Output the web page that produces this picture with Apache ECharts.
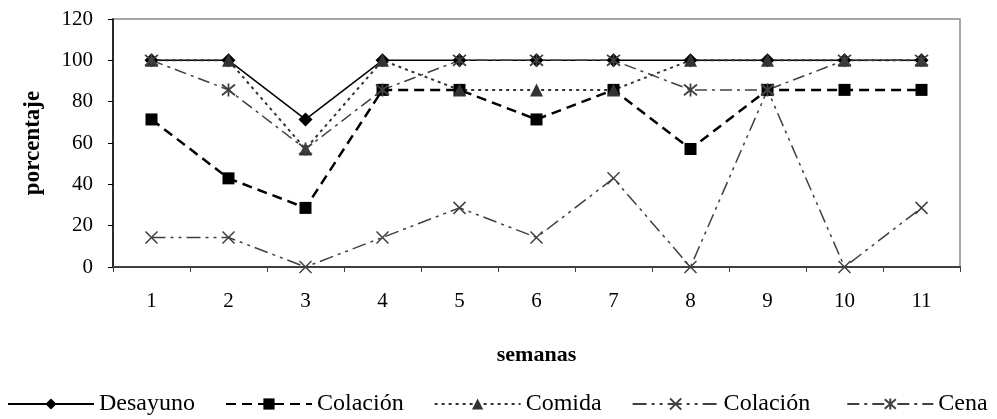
<!DOCTYPE html>
<html>
<head>
<meta charset="utf-8">
<script src="https://cdn.jsdelivr.net/npm/echarts@6/dist/echarts.min.js"></script>
<style>
  html, body { margin: 0; padding: 0; background: #fff; }
  #chart { width: 997px; height: 419px; }
</style>
</head>
<body>
<div id="chart"></div>
<script>
// Weeks on the x axis
const weeks = ['1', '2', '3', '4', '5', '6', '7', '8', '9', '10', '11'];

// Percentage of days per week for each meal
const desayuno  = [100, 100, 71.4, 100, 100, 100, 100, 100, 100, 100, 100];
const colacion1 = [71.4, 42.9, 28.6, 85.7, 85.7, 71.4, 85.7, 57.1, 85.7, 85.7, 85.7];
const comida    = [100, 100, 57.1, 100, 85.7, 85.7, 85.7, 100, 100, 100, 100];
const colacion2 = [14.3, 14.3, 0, 14.3, 28.6, 14.3, 42.9, 0, 85.7, 0, 28.6];
const cena      = [100, 85.7, 57.1, 85.7, 100, 100, 100, 85.7, 85.7, 100, 100];

// Series names (second snack carries a trailing space so the legend keeps both entries)
const names = ['Desayuno', 'Colación', 'Comida', 'Colación ', 'Cena'];

// Y axis ticks
const yMin = 0, yMax = 120, yStep = 20;

const FONT = '"Liberation Serif", "Times New Roman", serif';
const crossPath = 'path://M0,0L10,10M10,0L0,10';
const starPath = 'path://M0,1L10,11M10,1L0,11M5,0L5,12';

const chart = echarts.init(document.getElementById('chart'), null, { renderer: 'canvas' });

chart.setOption({
  animation: false,
  backgroundColor: '#ffffff',
  textStyle: { fontFamily: FONT, color: '#000' },
  grid: {
    left: 113, right: 37, top: 19, bottom: 152,
    show: true, borderColor: '#8a8a8a', borderWidth: 1.5
  },
  legend: {
    left: 7, top: 392, width: 990, padding: 0,
    itemWidth: 86, itemHeight: 14, itemGap: 30,
    textStyle: { fontFamily: FONT, fontSize: 24, color: '#000' },
    data: names
  },
  xAxis: {
    type: 'category',
    data: weeks,
    boundaryGap: true,
    name: 'semanas',
    nameLocation: 'middle',
    nameGap: 77,
    nameTextStyle: { fontFamily: FONT, fontSize: 22, fontWeight: 'bold', color: '#000' },
    axisLine: { show: true, lineStyle: { color: '#404040', width: 2 } },
    axisTick: { show: true, length: 5, alignWithLabel: false, lineStyle: { color: '#404040', width: 1 } },
    axisLabel: { margin: 24, fontFamily: FONT, fontSize: 21, color: '#000' },
    splitLine: { show: false }
  },
  yAxis: {
    type: 'value',
    min: yMin, max: yMax, interval: yStep,
    name: 'porcentaje',
    nameLocation: 'middle',
    nameGap: 68,
    nameRotate: 90,
    nameTextStyle: { fontFamily: FONT, fontSize: 23, fontWeight: 'bold', color: '#000' },
    axisLine: { show: true, lineStyle: { color: '#000', width: 1.5 } },
    axisTick: { show: true, length: 5, lineStyle: { color: '#000', width: 1 } },
    axisLabel: { margin: 20, fontFamily: FONT, fontSize: 21, color: '#000' },
    splitLine: { show: false }
  },
  series: [
    {
      name: names[0], type: 'line', data: desayuno,
      symbol: 'diamond', symbolSize: 14,
      lineStyle: { color: '#000', width: 1.5, type: 'solid' },
      itemStyle: { color: '#000' }
    },
    {
      name: names[1], type: 'line', data: colacion1,
      symbol: 'rect', symbolSize: 12,
      lineStyle: { color: '#000', width: 2.5, type: [10, 6] },
      itemStyle: { color: '#000' }
    },
    {
      name: names[2], type: 'line', data: comida,
      symbol: 'triangle', symbolSize: 13,
      lineStyle: { color: '#333', width: 2, type: [3, 4] },
      itemStyle: { color: '#333' }
    },
    {
      name: names[3], type: 'line', data: colacion2,
      symbol: crossPath, symbolSize: 12,
      lineStyle: { color: '#404040', width: 1.5, type: [14, 5, 3, 5, 3, 5] },
      itemStyle: { color: '#404040', borderColor: '#404040', borderWidth: 1.5 }
    },
    {
      name: names[4], type: 'line', data: cena,
      symbol: starPath, symbolSize: 13,
      lineStyle: { color: '#404040', width: 1.5, type: [12, 5, 3, 5] },
      itemStyle: { color: '#404040', borderColor: '#404040', borderWidth: 1.8 }
    }
  ]
});
</script>
</body>
</html>
